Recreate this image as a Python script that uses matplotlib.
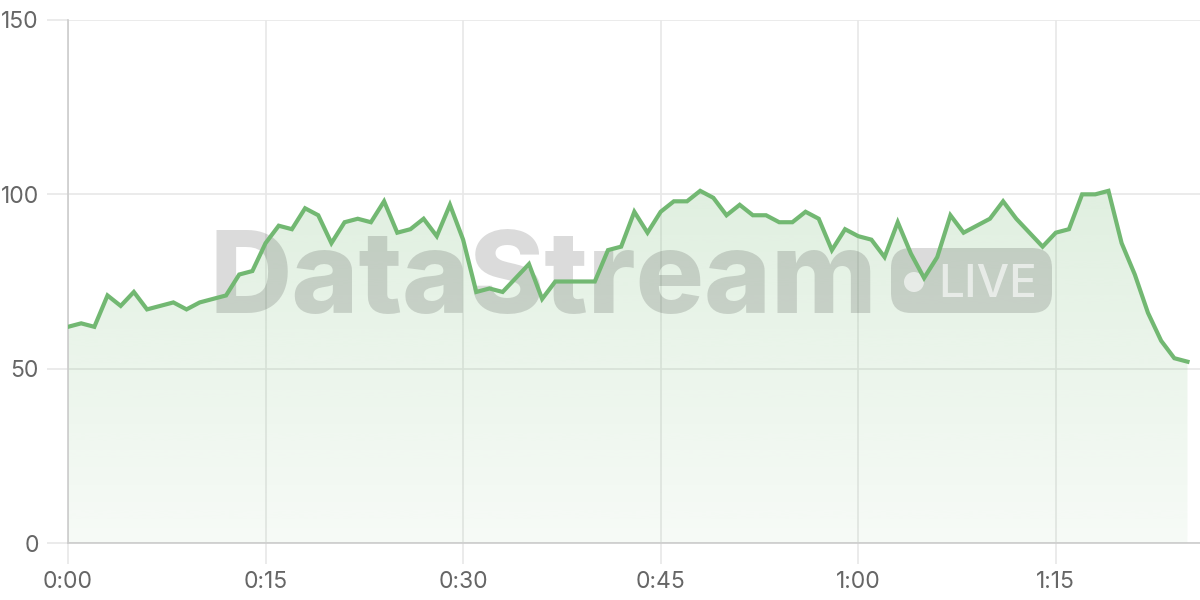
import matplotlib
matplotlib.use("Agg")
import matplotlib.pyplot as plt
import numpy as np
from matplotlib.patches import FancyBboxPatch, Circle, Polygon

minutes = list(range(86))
values = [62, 63, 62, 71, 68, 72, 67, 68, 69, 67,
          69, 70, 71, 77, 78, 86, 91, 90, 96, 94,
          86, 92, 93, 92, 98, 89, 90, 93, 88, 97,
          87, 72, 73, 72, 76, 80, 70, 75, 75, 75,
          75, 84, 85, 95, 89, 95, 98, 98, 101, 99,
          94, 97, 94, 94, 92, 92, 95, 93, 84, 90,
          88, 87, 82, 92, 83, 76, 82, 94, 89, 91,
          93, 98, 93, 89, 85, 89, 90, 100, 100, 101,
          86, 77, 66, 58, 53, 52]
xtick_pos = [0, 15, 30, 45, 60, 75]
xtick_labels = ["0:00", "0:15", "0:30", "0:45", "1:00", "1:15"]
ytick_pos = [0, 50, 100, 150]
ytick_labels = ["0", "50", "100", "150"]

plt.rcParams['font.family'] = ['Inter', 'DejaVu Sans']
line_color = '#72b872'

fig = plt.figure(figsize=(12, 6), dpi=100)
ax = fig.add_axes([68/1200, 57/600, 1 - 68/1200, (543-20)/600])
ax.set_xlim(0, 85.95)
ax.set_ylim(0, 150)

x = np.array(minutes)
y = np.array(values)

# gradient fill
verts = [(x[0], 0)] + list(zip(x, y)) + [(x[-1], 0)]
poly = Polygon(verts, closed=True, facecolor='none', edgecolor='none')
ax.add_patch(poly)
grad = np.linspace(0, 1, 256).reshape(-1, 1)
rgba = np.zeros((256, 1, 4))
rgba[..., 0] = 0x72/255
rgba[..., 1] = 0xb8/255
rgba[..., 2] = 0x72/255
rgba[..., 3] = 0.06 + 0.16 * grad[:, 0:1]
im = ax.imshow(rgba, aspect='auto', extent=[x[0], x[-1], 0, max(values)],
               origin='lower', zorder=1, interpolation='bicubic')
im.set_clip_path(poly)

# watermark
T = fig.dpi_scale_trans
ax.text(2.10, (600-313)/100, "DataStream", transform=T, fontsize=82,
        fontweight='heavy', color='black', alpha=0.14, ha='left', va='baseline',
        zorder=2, clip_on=False)
badge = FancyBboxPatch((8.91 + 0.2, (600-313)/100 + 0.2), 1.61 - 0.4, 0.65 - 0.4,
                       boxstyle="round,pad=0.2", transform=T, facecolor='black',
                       alpha=0.14, edgecolor='none', zorder=2, clip_on=False)
ax.add_patch(badge)
dot = Circle((9.14, (600-282)/100), 0.10, transform=T, facecolor='white',
             alpha=0.6, edgecolor='none', zorder=2.1, clip_on=False)
ax.add_patch(dot)
ax.text(9.38, (600-297)/100, "LIVE", transform=T, fontsize=33, color='white',
        fontweight='medium', alpha=0.6, ha='left', va='baseline', zorder=2.1,
        clip_on=False)

ax.plot(x, y, color=line_color, linewidth=3, zorder=3, solid_joinstyle='miter')

ax.set_xticks(xtick_pos)
ax.set_xticklabels(xtick_labels)
ax.set_yticks(ytick_pos)
ax.set_yticklabels(ytick_labels)
ax.grid(True, color='#e8e8e8', linewidth=1.2, zorder=0)
ax.set_axisbelow(True)
for s in ['top', 'right']:
    ax.spines[s].set_visible(False)
for s in ['left', 'bottom']:
    ax.spines[s].set_color('#cccccc')
    ax.spines[s].set_linewidth(1.2)
ax.tick_params(axis='both', length=15, width=1.2, color='#e8e8e8',
               labelcolor='#666666', labelsize=16.5)
ax.tick_params(axis='x', pad=5)
ax.tick_params(axis='y', pad=6)

fig.savefig("out.png", dpi=100)
